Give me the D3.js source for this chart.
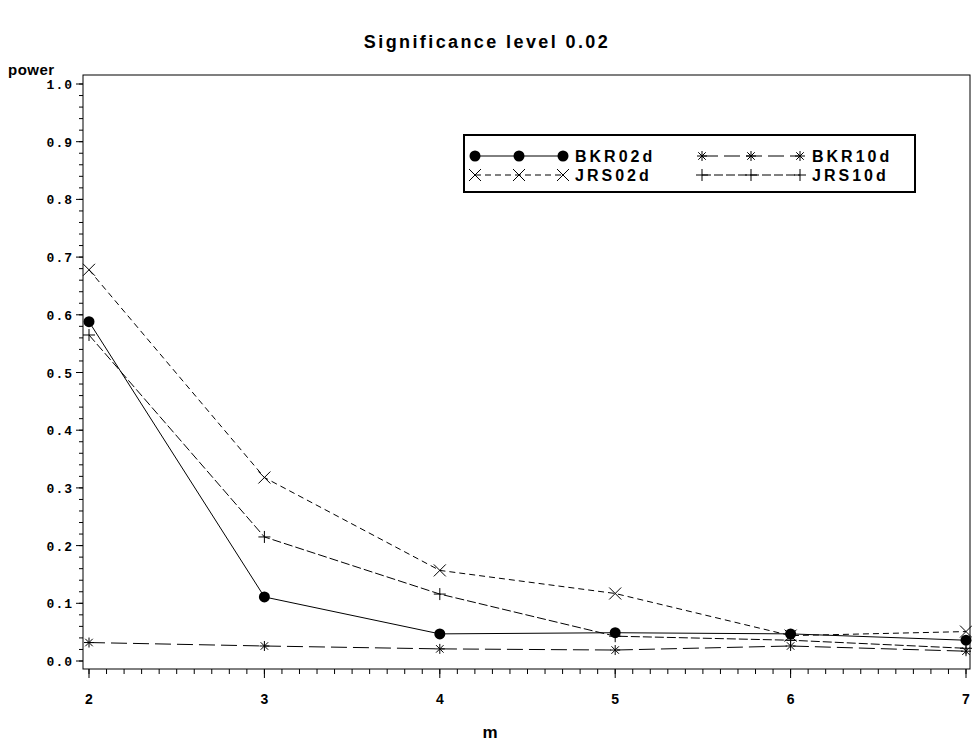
<!DOCTYPE html>
<html><head><meta charset="utf-8">
<script src="https://cdn.jsdelivr.net/npm/d3@7"></script>
<style>body{margin:0;background:#fff}svg{display:block}</style>
</head><body>
<svg id="c" width="972" height="742"></svg>
<script>
const m = [2, 3, 4, 5, 6, 7];
const BKR02d = [0.588, 0.111, 0.047, 0.049, 0.047, 0.036];
const JRS02d = [0.678, 0.318, 0.157, 0.117, 0.044, 0.051];
const BKR10d = [0.032, 0.026, 0.021, 0.019, 0.026, 0.017];
const JRS10d = [0.565, 0.215, 0.116, 0.043, 0.036, 0.022];
const yTicks = [0, 0.1, 0.2, 0.3, 0.4, 0.5, 0.6, 0.7, 0.8, 0.9, 1.0];
const seriesNames = ["BKR02d", "JRS02d", "BKR10d", "JRS10d"];

const svg = d3.select("#c");
const x = d3.scaleLinear().domain([2, 7]).range([89, 966]);
const y = d3.scaleLinear().domain([0, 1]).range([661, 84]);
const frame = {l: 83, t: 75, r: 970, b: 669};

const series = [
  {name: "BKR02d", vals: BKR02d, dash: null, marker: "dot"},
  {name: "JRS02d", vals: JRS02d, dash: "6,4", marker: "x"},
  {name: "BKR10d", vals: BKR10d, dash: "16,6", marker: "star"},
  {name: "JRS10d", vals: JRS10d, dash: "9,3", marker: "plus"}
];

// title
svg.append("text").attr("x", 487).attr("y", 48).attr("text-anchor", "middle")
  .attr("font-family", "Liberation Sans, Arial, sans-serif").attr("font-weight", "bold")
  .attr("font-size", 18).attr("letter-spacing", 2.4).text("Significance level 0.02");

// frame
svg.append("rect").attr("x", frame.l).attr("y", frame.t).attr("width", frame.r - frame.l)
  .attr("height", frame.b - frame.t).attr("fill", "none").attr("stroke", "#000").attr("stroke-width", 1);

// y axis
const yAxis = svg.append("g").attr("transform", `translate(${frame.l},0)`);
const yMinor = d3.range(0, 1.0001, 0.02);
yMinor.forEach(v => {
  yAxis.append("line").attr("x1", -4).attr("x2", 0).attr("y1", y(v)).attr("y2", y(v)).attr("stroke", "#000");
});
yTicks.forEach(v => {
  yAxis.append("line").attr("x1", -7).attr("x2", 0).attr("y1", y(v)).attr("y2", y(v)).attr("stroke", "#000");
  yAxis.append("text").attr("x", -10).attr("y", y(v) + 5).attr("text-anchor", "end")
    .attr("font-family", "Liberation Mono, monospace").attr("font-weight", "bold")
    .attr("font-size", 13).attr("letter-spacing", 1).text(d3.format(".1f")(v));
});
svg.append("text").attr("x", 8).attr("y", 75).attr("font-family", "Liberation Sans, Arial, sans-serif")
  .attr("font-weight", "bold").attr("font-size", 15).attr("letter-spacing", 0.5).text("power");

// x axis
const xAxis = svg.append("g").attr("transform", `translate(0,${frame.b})`);
d3.range(2, 7.0001, 0.1).forEach(v => {
  xAxis.append("line").attr("x1", x(v)).attr("x2", x(v)).attr("y1", 0).attr("y2", 5).attr("stroke", "#000");
});
m.forEach(v => {
  xAxis.append("line").attr("x1", x(v)).attr("x2", x(v)).attr("y1", 0).attr("y2", 9).attr("stroke", "#000");
  xAxis.append("text").attr("x", x(v)).attr("y", 35).attr("text-anchor", "middle")
    .attr("font-family", "Liberation Sans, Arial, sans-serif").attr("font-weight", "bold")
    .attr("font-size", 14).text(v);
});
svg.append("text").attr("x", 490).attr("y", 738).attr("text-anchor", "middle")
  .attr("font-family", "Liberation Sans, Arial, sans-serif").attr("font-weight", "bold")
  .attr("font-size", 17).text("m");

function drawMarker(g, type, cx, cy) {
  if (type === "dot") {
    g.append("circle").attr("cx", cx).attr("cy", cy).attr("r", 5.5).attr("fill", "#000");
  } else if (type === "x") {
    const s = 6;
    g.append("path").attr("d", `M${cx-s},${cy-s}L${cx+s},${cy+s}M${cx-s},${cy+s}L${cx+s},${cy-s}`)
      .attr("stroke", "#000").attr("stroke-width", 1).attr("fill", "none");
  } else if (type === "star") {
    const s = 5;
    g.append("path").attr("d", `M${cx-s},${cy}L${cx+s},${cy}M${cx},${cy-s}L${cx},${cy+s}M${cx-s*0.75},${cy-s*0.75}L${cx+s*0.75},${cy+s*0.75}M${cx-s*0.75},${cy+s*0.75}L${cx+s*0.75},${cy-s*0.75}`)
      .attr("stroke", "#000").attr("stroke-width", 1).attr("fill", "none");
  } else if (type === "plus") {
    const s = 6;
    g.append("path").attr("d", `M${cx-s},${cy}L${cx+s},${cy}M${cx},${cy-s}L${cx},${cy+s}`)
      .attr("stroke", "#000").attr("stroke-width", 1).attr("fill", "none");
  }
}

const line = d3.line().x((d, i) => x(m[i])).y(d => y(d));
const plot = svg.append("g");
series.forEach(s => {
  plot.append("path").attr("d", line(s.vals)).attr("fill", "none").attr("stroke", "#000")
    .attr("stroke-width", 1).attr("stroke-dasharray", s.dash);
  s.vals.forEach((v, i) => drawMarker(plot, s.marker, x(m[i]), y(v)));
});

// legend
const lg = svg.append("g");
lg.append("rect").attr("x", 464).attr("y", 135).attr("width", 451).attr("height", 57)
  .attr("fill", "#fff").attr("stroke", "#000").attr("stroke-width", 2);
const legPos = [
  {x0: 475, x1: 563, tx: 575, ty: 156},
  {x0: 475, x1: 563, tx: 575, ty: 175},
  {x0: 702, x1: 800, tx: 812, ty: 156},
  {x0: 702, x1: 800, tx: 812, ty: 175}
];
series.forEach((s, i) => {
  const p = legPos[i];
  lg.append("line").attr("x1", p.x0).attr("x2", p.x1).attr("y1", p.ty).attr("y2", p.ty)
    .attr("stroke", "#000").attr("stroke-dasharray", s.dash);
  [p.x0, (p.x0 + p.x1) / 2, p.x1].forEach(mx => drawMarker(lg, s.marker, mx, p.ty));
  lg.append("text").attr("x", p.tx).attr("y", p.ty + 6)
    .attr("font-family", "Liberation Sans, Arial, sans-serif").attr("font-weight", "bold")
    .attr("font-size", 16).attr("letter-spacing", 3).text(seriesNames[i]);
});
</script>
</body></html>
